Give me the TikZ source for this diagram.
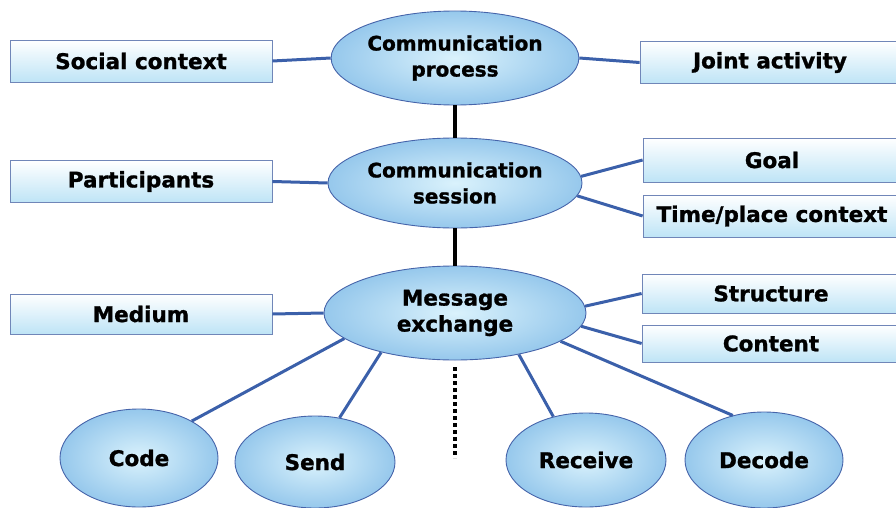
\documentclass[tikz,border=0pt]{standalone}
\usepackage{fontspec}
\setmainfont{DejaVu Sans}[BoldFeatures={FakeBold=1.2}]
\usetikzlibrary{shapes.geometric}
\definecolor{linkblue}{RGB}{59,96,170}
\definecolor{rimblue}{RGB}{70,100,170}
\definecolor{boxrim}{RGB}{112,134,184}
\definecolor{ovalin}{RGB}{218,242,252}
\definecolor{ovalout}{RGB}{150,200,236}
\definecolor{boxlow}{RGB}{190,228,246}

\begin{document}
\begin{tikzpicture}
  [x=1pt,y=-1pt,
   every node/.style={font=\fontsize{21.5}{26}\selectfont\bfseries,align=center,inner sep=0pt},
   oval/.style={ellipse,draw=rimblue,line width=0.9pt,shading=radial,inner color=ovalin,outer color=ovalout},
   tag/.style={rectangle,draw=boxrim,line width=0.8pt,top color=white,bottom color=boxlow,minimum width=262pt,minimum height=42pt},
   link/.style={draw=linkblue,line width=3pt},
   stem/.style={draw=black,line width=4pt}]

  \clip (0,0) rectangle (896,508);
  \useasboundingbox (0,0) rectangle (896,508);

  % central chain
  \node[oval,minimum width=246pt,minimum height=94pt,font=\fontsize{20}{26}\selectfont\bfseries] (process)  at (455,58)  {Communication\\process};
  \node[oval,minimum width=254pt,minimum height=90pt,font=\fontsize{20}{26}\selectfont\bfseries] (session)  at (455,183) {Communication\\session};
  \node[oval,minimum width=262pt,minimum height=94pt] (exchange) at (455,313) {Message\\exchange};

  % left side
  \node[tag] (social)       at (141,61)    {Social context};
  \node[tag] (participants) at (141,181.5) {Participants};
  \node[tag,minimum height=40pt] (medium) at (141,314) {Medium};

  % right side
  \node[tag,minimum width=260pt] (joint)     at (770,62.5)  {Joint activity};
  \node[tag,minimum width=258pt,minimum height=44pt] (goal)      at (772,160) {Goal};
  \node[tag,minimum width=258pt] (timeplace) at (772,216)   {Time/place context};
  \node[tag,minimum width=258pt,minimum height=39pt] (structure) at (771,293.5) {Structure};
  \node[tag,minimum width=258pt,minimum height=37pt] (content)   at (771,343.5) {Content};

  % bottom row
  \node[oval,minimum width=158pt,minimum height=98pt] (code)    at (139,458) {Code};
  \node[oval,minimum width=160pt,minimum height=92pt] (send)    at (315,462) {Send};
  \node[oval,minimum width=160pt,minimum height=94pt] (receive) at (586,460) {Receive};
  \node[oval,minimum width=158pt,minimum height=96pt] (decode)  at (764,460) {Decode};

  \coordinate (dots) at (455,367);
  \coordinate (more) at (455,458);

  \path[stem] (process) -- (session);
  \path[stem] (session) -- (exchange);
  \path[stem,dash pattern=on 4pt off 3pt] (dots) -- (more);

  \path[link] (social.east)       -- (process.west);
  \path[link] (process.east)      -- (joint.west);
  \path[link] (participants.east) -- (session.west);
  \path[link] (session.3)         -- (goal.west);
  \path[link] (session.-6)        -- (timeplace.west);
  \path[link] (medium.east)       -- (exchange.west);
  \path[link] (exchange.3)        -- (structure.west);
  \path[link] (exchange.-6)       -- (content.west);
  \path[link] (exchange.193)      -- (code.35);
  \path[link] (exchange.-152)     -- (send.61);
  \path[link] (exchange.-33)      -- (receive.127);
  \path[link] (exchange.-15)      -- (decode.125);
\end{tikzpicture}
\end{document}
